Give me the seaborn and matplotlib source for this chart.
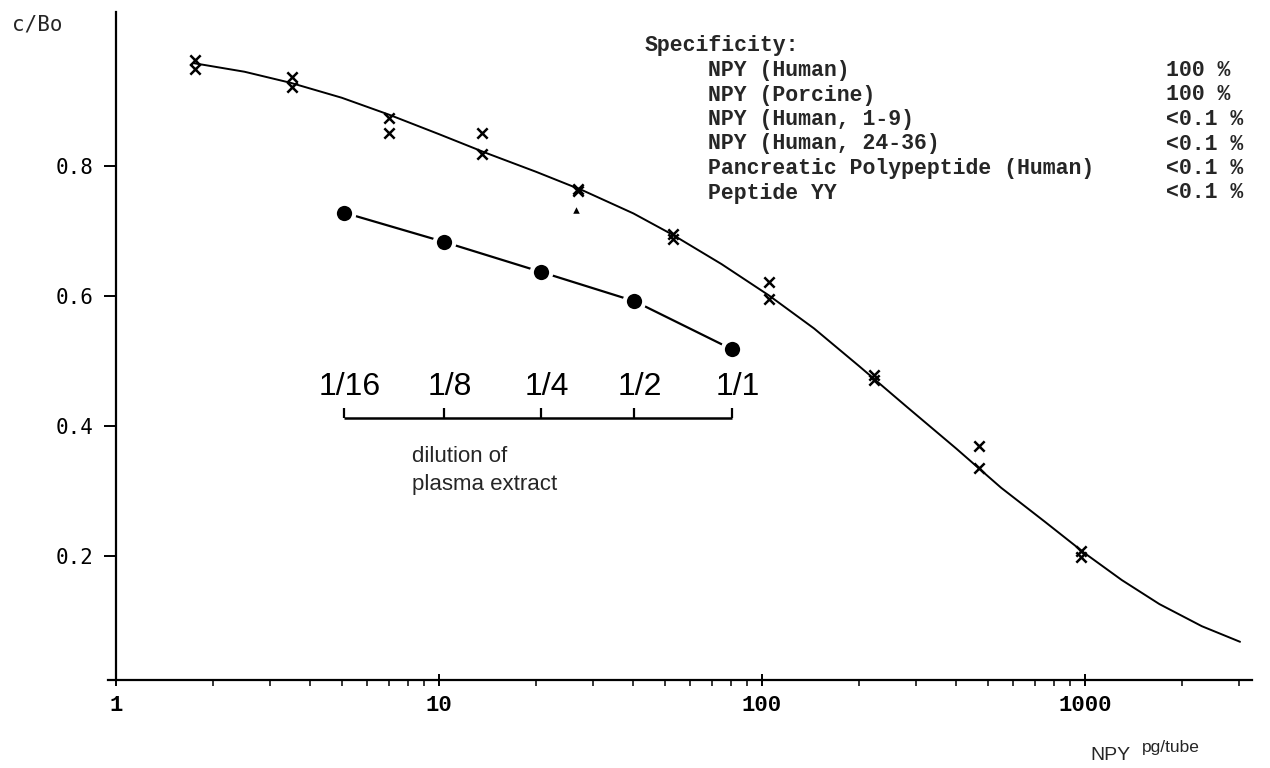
import matplotlib
matplotlib.use("Agg")
import matplotlib.pyplot as plt
import seaborn as sns
import pandas as pd

sns.set_theme(style="ticks")
plt.rcParams["font.family"] = ["DejaVu Sans"]

# ---------------- data ----------------
std_x = [1.76, 3.5, 7.0, 13.6, 27.0, 53.0, 105, 222, 470, 975]          # NPY pg/tube
rep1_y = [0.963, 0.937, 0.874, 0.851, 0.765, 0.695, 0.622, 0.478, 0.369, 0.208]
rep2_y = [0.949, 0.922, 0.851, 0.818, 0.762, 0.688, 0.595, 0.470, 0.335, 0.198]

extra_x = [26.6]      # small triangle
extra_y = [0.732]

curve_x = [1.75, 2.5, 3.47, 5.0, 7.0, 10, 14, 20, 28, 40, 53, 75, 105, 145, 200,
           280, 400, 550, 750, 1000, 1300, 1700, 2300, 3020]
curve_y = [0.958, 0.945, 0.928, 0.905, 0.879, 0.849, 0.820, 0.791, 0.762, 0.727,
           0.694, 0.649, 0.601, 0.550, 0.492, 0.430, 0.365, 0.305, 0.253, 0.204,
           0.163, 0.126, 0.092, 0.068]

dil_x = [5.1, 10.4, 20.7, 40.3, 80.7]
dil_y = [0.728, 0.683, 0.637, 0.592, 0.518]
dil_labels = ["1/16", "1/8", "1/4", "1/2", "1/1"]

x_ticks = [1, 10, 100, 1000]
x_ticklabels = ["1", "10", "100", "1000"]
y_ticks = [0.2, 0.4, 0.6, 0.8]
y_ticklabels = ["0.2", "0.4", "0.6", "0.8"]

spec_names = ["NPY (Human)", "NPY (Porcine)", "NPY (Human, 1-9)", "NPY (Human, 24-36)",
              "Pancreatic Polypeptide (Human)", "Peptide YY"]
spec_values = ["100 %", "100 %", "<0.1 %", "<0.1 %", "<0.1 %", "<0.1 %"]

# ---------------- figure ----------------
W, H = 1270, 768
fig = plt.figure(figsize=(W / 100, H / 100), dpi=100)
ax = fig.add_axes([108 / W, 88 / H, 1144 / W, 668 / H])


def fp(x, y):
    """pixel (from top-left) -> figure fraction"""
    return x / W, 1 - y / H


curve_df = pd.DataFrame({"x": curve_x, "y": curve_y})
sns.lineplot(data=curve_df, x="x", y="y", ax=ax, color="black", lw=1.4,
             sort=False, estimator=None)

std_df = pd.DataFrame({"x": std_x * 2, "y": rep1_y + rep2_y})
sns.scatterplot(data=std_df, x="x", y="y", ax=ax, marker="x", color="black",
                s=55, linewidth=1.8, zorder=4)
sns.scatterplot(x=extra_x, y=extra_y, ax=ax, marker="^", color="black", s=22,
                linewidth=0, zorder=4)

dil_df = pd.DataFrame({"x": dil_x, "y": dil_y})
sns.lineplot(data=dil_df, x="x", y="y", ax=ax, color="black", lw=1.6, marker="o",
             markersize=14, markerfacecolor="black", markeredgecolor="white",
             markeredgewidth=3, sort=False, estimator=None, zorder=5)

# dilution bracket
ax.hlines(0.412, dil_x[0], dil_x[-1], color="black", lw=1.8)
ax.vlines(dil_x, 0.412, 0.428, color="black", lw=1.6)
for xv, lab in zip(dil_x, dil_labels):
    ax.annotate(lab, (xv, 0.448), xytext=(4, 0), textcoords="offset points",
                ha="center", va="baseline", fontsize=23,
                family="Liberation Sans", color="black")

ax.set_xscale("log")
ax.set_xlim(0.945, 3289)
ax.set_ylim(0.00923, 1.0369)
ax.set_xlabel("")
ax.set_ylabel("")

ax.spines["top"].set_visible(False)
ax.spines["right"].set_visible(False)
ax.spines["left"].set_position(("data", 1))
for s in ("left", "bottom"):
    ax.spines[s].set_linewidth(1.6)
    ax.spines[s].set_color("black")

ax.set_xticks(x_ticks)
ax.set_xticklabels(x_ticklabels, family="Liberation Mono", fontsize=16,
                   fontweight="bold")
ax.set_yticks(y_ticks)
ax.set_yticklabels(y_ticklabels, family="DejaVu Sans Mono", fontsize=15)
ax.tick_params(axis="x", which="major", direction="inout", length=8, width=1.4,
               pad=7, colors="black")
ax.tick_params(axis="x", which="minor", direction="out", length=4, width=1.1,
               colors="black")
ax.tick_params(axis="y", which="major", direction="out", length=8.5, width=1.4,
               pad=8, colors="black")
ax.tick_params(axis="y", which="minor", length=0)
ax.grid(False)

# texts
fig.text(*fp(12, 30), "c/Bo", family="DejaVu Sans Mono", fontsize=15,
         va="baseline", ha="left")

fig.text(*fp(645, 46), "Specificity:", family="Liberation Mono", fontsize=15.5,
         fontweight="bold", va="center", ha="left")
for i, (n, v) in enumerate(zip(spec_names, spec_values)):
    yy = 46 + 24.5 * (i + 1)
    fig.text(*fp(708, yy), n, family="Liberation Mono", fontsize=15.5,
             fontweight="bold", va="center", ha="left")
    fig.text(*fp(1166, yy), v, family="Liberation Mono", fontsize=15.5,
             fontweight="bold", va="center", ha="left")

fig.text(*fp(412, 462), "dilution of", family="Liberation Sans", fontsize=16,
         va="baseline", ha="left")
fig.text(*fp(412, 490), "plasma extract", family="Liberation Sans", fontsize=16,
         va="baseline", ha="left")

fig.text(*fp(1090, 760), "NPY", family="Liberation Sans", fontsize=14,
         va="baseline", ha="left")
fig.text(*fp(1142, 752), "pg/tube", family="Liberation Sans", fontsize=12.5,
         va="baseline", ha="left")

fig.savefig("out.png", dpi=100, facecolor="white")
